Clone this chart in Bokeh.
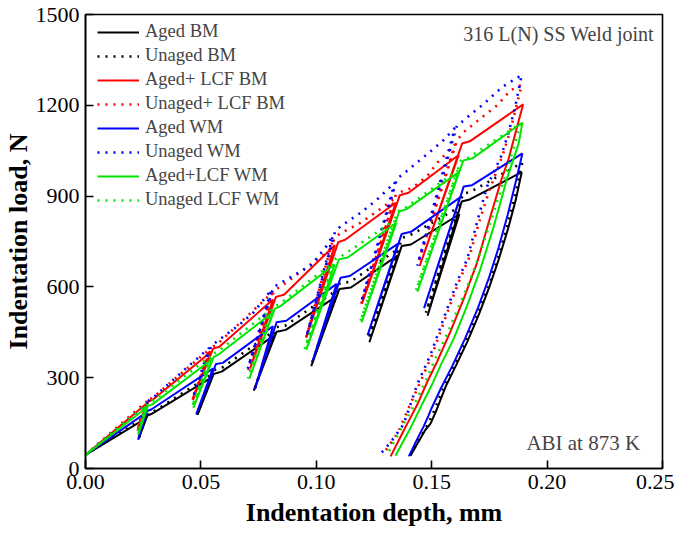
from bokeh.plotting import figure
from bokeh.models import Range1d, Legend, LegendItem, Label, FixedTicker
from bokeh.embed import file_html
from bokeh.resources import INLINE

# ---------------- data ----------------
x_ticks = [0.0, 0.05, 0.10, 0.15, 0.20, 0.25]
y_ticks = [0, 300, 600, 900, 1200, 1500]

aged_bm_depth = [0.000, 0.0260, 0.0230, 0.0268, 0.0285, 0.0545, 0.0486, 0.0555, 0.0590,
                 0.0815, 0.0729, 0.0828, 0.0868, 0.1084, 0.0978, 0.1100, 0.1150,
                 0.1355, 0.1230, 0.1370, 0.1410, 0.1620, 0.1482, 0.1630, 0.1665,
                 0.1890, 0.1865, 0.1830, 0.1790, 0.1750, 0.1705, 0.1655, 0.1605,
                 0.1560, 0.1522, 0.1495, 0.1473, 0.1440, 0.1408]
aged_bm_load = [45, 165, 98, 175, 180, 300, 178, 312, 320,
                438, 257, 452, 458, 567, 338, 593, 598,
                705, 417, 735, 740, 840, 505, 882, 889,
                979, 890, 790, 690, 600, 510, 420, 340,
                270, 195, 148, 128, 85, 42]

unaged_bm_depth = [0.000, 0.0258, 0.0229, 0.0266, 0.0285, 0.0548, 0.0483, 0.0558, 0.0590,
                   0.0813, 0.0731, 0.0826, 0.0866, 0.1086, 0.0980, 0.1102, 0.1148,
                   0.1354, 0.1226, 0.1372, 0.1405, 0.1623, 0.1475, 0.1636, 0.1668,
                   0.1892, 0.1866, 0.1832, 0.1795, 0.1755, 0.1705, 0.1650, 0.1598,
                   0.1552, 0.1510, 0.1485, 0.1455, 0.1405]
unaged_bm_load = [45, 170, 96, 178, 183, 312, 178, 325, 332,
                  452, 258, 467, 472, 588, 345, 612, 617,
                  725, 428, 762, 770, 865, 515, 908, 914,
                  1010, 920, 815, 715, 620, 520, 425, 340,
                  268, 190, 148, 108, 42]

aged_lcf_bm_depth = [0.000, 0.0265, 0.0225, 0.0272, 0.0290, 0.0543, 0.0464, 0.0553, 0.0580,
                     0.0812, 0.0713, 0.0825, 0.0860, 0.1080, 0.0956, 0.1095, 0.1125,
                     0.1344, 0.1198, 0.1362, 0.1400, 0.1617, 0.1448, 0.1632, 0.1665,
                     0.1896, 0.1870, 0.1834, 0.1800, 0.1755, 0.1697, 0.1639, 0.1581,
                     0.1524, 0.1480, 0.1440, 0.1408, 0.1392, 0.1375, 0.1322]
aged_lcf_bm_load = [45, 215, 125, 222, 226, 385, 229, 396, 402,
                    558, 330, 567, 574, 738, 432, 748, 756,
                    878, 545, 903, 911, 1036, 669, 1074, 1081,
                    1203, 1129, 1025, 950, 834, 681, 561, 452,
                    354, 285, 215, 168, 145, 120, 40]

unaged_lcf_bm_depth = [0.000, 0.0265, 0.0226, 0.0272, 0.0290, 0.0536, 0.0462, 0.0545, 0.0570,
                       0.0808, 0.0706, 0.0818, 0.0840, 0.1055, 0.1068, 0.0955, 0.1078, 0.1100,
                       0.1192, 0.1264, 0.1336, 0.1195, 0.1345, 0.1370, 0.1416, 0.1480,
                       0.1524, 0.1600, 0.1442, 0.1610, 0.1640, 0.1711, 0.1784, 0.1841,
                       0.1890, 0.1865, 0.1838, 0.1805, 0.1750, 0.1710, 0.1660, 0.1617,
                       0.1574, 0.1538, 0.1502, 0.1452, 0.1400, 0.1355, 0.1315, 0.1286]
unaged_lcf_bm_load = [45, 222, 130, 228, 233, 393, 220, 400, 410,
                      580, 325, 590, 598, 719, 745, 430, 760, 775,
                      812, 850, 890, 545, 905, 915, 927, 965,
                      1010, 1070, 680, 1085, 1112, 1156, 1200, 1249,
                      1268, 1190, 1110, 1030, 920, 825, 692, 616,
                      528, 452, 376, 288, 200, 120, 75, 45]

aged_wm_depth = [0.000, 0.0258, 0.0228, 0.0266, 0.0285, 0.0552, 0.0480, 0.0565, 0.0595,
                 0.0812, 0.0734, 0.0828, 0.0870, 0.1088, 0.0984, 0.1105, 0.1145,
                 0.1353, 0.1222, 0.1370, 0.1410, 0.1622, 0.1467, 0.1639, 0.1675,
                 0.1893, 0.1865, 0.1830, 0.1790, 0.1748, 0.1700, 0.1645, 0.1590,
                 0.1540, 0.1500, 0.1486, 0.1466, 0.1437, 0.1401]
aged_wm_load = [45, 182, 95, 190, 195, 330, 180, 345, 349,
                470, 262, 483, 488, 610, 355, 630, 636,
                742, 440, 775, 782, 895, 530, 932, 936,
                1041, 950, 840, 730, 630, 530, 430, 340,
                265, 200, 175, 140, 97, 40]

unaged_wm_depth = [0.000, 0.0175, 0.0268, 0.0232, 0.0275, 0.0290, 0.0535, 0.0466, 0.0545, 0.0570,
                   0.0665, 0.0730, 0.0805, 0.0703, 0.0815, 0.0835, 0.0903, 0.0975, 0.1040,
                   0.1072, 0.0958, 0.1082, 0.1105, 0.1192, 0.1264, 0.1340, 0.1195, 0.1350,
                   0.1375, 0.1459, 0.1545, 0.1600, 0.1438, 0.1610, 0.1630, 0.1726, 0.1805,
                   0.1890, 0.1863, 0.1834, 0.1800, 0.1740, 0.1704, 0.1654, 0.1610, 0.1567,
                   0.1531, 0.1495, 0.1437, 0.1379, 0.1336, 0.1293, 0.1264]
unaged_wm_load = [45, 152, 218, 120, 225, 232, 398, 235, 405, 420,
                  474, 517, 590, 330, 600, 608, 638, 670, 730,
                  770, 437, 785, 800, 845, 889, 945, 550, 958,
                  972, 1025, 1080, 1125, 670, 1135, 1145, 1205, 1260,
                  1300, 1200, 1112, 1030, 932, 835, 692, 616, 528,
                  452, 376, 277, 147, 101, 60, 40]

aged_lcf_wm_depth = [0.000, 0.0262, 0.0228, 0.0270, 0.0288, 0.0547, 0.0467, 0.0555, 0.0575,
                     0.0812, 0.0710, 0.0820, 0.0840, 0.1079, 0.0956, 0.1098, 0.1136,
                     0.1347, 0.1196, 0.1359, 0.1391, 0.1618, 0.1438, 0.1637, 0.1675,
                     0.1893, 0.1877, 0.1827, 0.1769, 0.1711, 0.1654, 0.1596, 0.1538,
                     0.1505, 0.1460, 0.1430, 0.1412, 0.1398, 0.1343]
aged_lcf_wm_load = [45, 200, 112, 207, 211, 360, 200, 368, 376,
                    516, 297, 528, 534, 674, 392, 691, 697,
                    812, 483, 849, 857, 979, 584, 1018, 1024,
                    1143, 1074, 960, 800, 659, 539, 430, 340,
                    283, 215, 168, 140, 120, 42]

unaged_lcf_wm_depth = [0.000, 0.0262, 0.0226, 0.0270, 0.0288, 0.0540, 0.0462, 0.0550, 0.0572,
                       0.0805, 0.0703, 0.0815, 0.0838, 0.1072, 0.0950, 0.1085, 0.1110,
                       0.1340, 0.1190, 0.1352, 0.1380, 0.1612, 0.1432, 0.1628, 0.1660,
                       0.1885, 0.1855, 0.1820, 0.1770, 0.1720, 0.1670, 0.1620, 0.1570,
                       0.1520, 0.1473, 0.1420, 0.1380, 0.1345, 0.1307]
unaged_lcf_wm_load = [45, 210, 118, 217, 221, 370, 205, 378, 386,
                      525, 298, 535, 542, 680, 395, 695, 702,
                      820, 485, 850, 858, 985, 588, 1020, 1027,
                      1140, 1060, 970, 850, 735, 630, 540, 450,
                      370, 288, 205, 150, 100, 46]

series = [
    ("Aged BM", aged_bm_depth, aged_bm_load, "#000000", False),
    ("Unaged BM", unaged_bm_depth, unaged_bm_load, "#000000", True),
    ("Aged+ LCF BM", aged_lcf_bm_depth, aged_lcf_bm_load, "#ff0000", False),
    ("Unaged+ LCF BM", unaged_lcf_bm_depth, unaged_lcf_bm_load, "#ff0000", True),
    ("Aged WM", aged_wm_depth, aged_wm_load, "#0000ff", False),
    ("Unaged WM", unaged_wm_depth, unaged_wm_load, "#0000ff", True),
    ("Aged+LCF WM", aged_lcf_wm_depth, aged_lcf_wm_load, "#00e600", False),
    ("Unaged LCF WM", unaged_lcf_wm_depth, unaged_lcf_wm_load, "#00e600", True),
]

# ---------------- figure ----------------
FONT = "Liberation Serif"
p = figure(frame_width=577, frame_height=454,
           output_backend="svg", toolbar_location=None,
           x_range=Range1d(0, 0.25), y_range=Range1d(0, 1500),
           min_border_left=80, min_border_right=12, min_border_top=14, min_border_bottom=60)
p.grid.visible = False
p.outline_line_color = "black"
p.outline_line_width = 1.6

for ax in (p.xaxis[0], p.yaxis[0]):
    ax.axis_line_width = 1.6
    ax.major_tick_in = 8
    ax.major_tick_out = 0
    ax.major_tick_line_width = 1.6
    ax.minor_tick_line_color = None
    ax.major_label_text_font = FONT
    ax.major_label_text_font_size = "22px"
    ax.major_label_text_color = "black"
    ax.axis_label_text_font = FONT
    ax.axis_label_text_font_style = "bold"
    ax.axis_label_text_font_size = "26px"
    ax.axis_label_text_color = "black"

p.xaxis.ticker = FixedTicker(ticks=x_ticks)
p.yaxis.ticker = FixedTicker(ticks=y_ticks)
p.xaxis.major_label_overrides = {t: f"{t:.2f}" for t in x_ticks}
p.xaxis.major_label_standoff = 6
p.yaxis.major_label_standoff = 6
p.xaxis.axis_label = "Indentation depth, mm"
p.yaxis.axis_label = "Indentation load, N"
p.xaxis.axis_label_standoff = 6
p.yaxis.axis_label_standoff = 0

items = []
for name, xs, ys, color, dotted in series:
    if dotted:
        r = p.line(xs, ys, line_color=color, line_width=2.6, line_dash="2 6")
    else:
        r = p.line(xs, ys, line_color=color, line_width=2)
    items.append(LegendItem(label=name, renderers=[r]))

legend = Legend(items=items, location=(12, 258), padding=0, margin=0,
                spacing=3, label_height=20, glyph_height=20, glyph_width=42,
                label_standoff=6, border_line_color=None, background_fill_alpha=0,
                label_text_font=FONT, label_text_font_size="18.5px")
p.add_layout(legend)

p.add_layout(Label(x=0.2463, y=1435, text="316 L(N) SS Weld joint", text_font=FONT,
                   text_font_size="20px", text_align="right", text_baseline="middle"))
p.add_layout(Label(x=0.2403, y=83, text="ABI at 873 K", text_font=FONT,
                   text_font_size="21px", text_align="right", text_baseline="middle"))

open("out.html", "w").write(file_html(p, INLINE))
